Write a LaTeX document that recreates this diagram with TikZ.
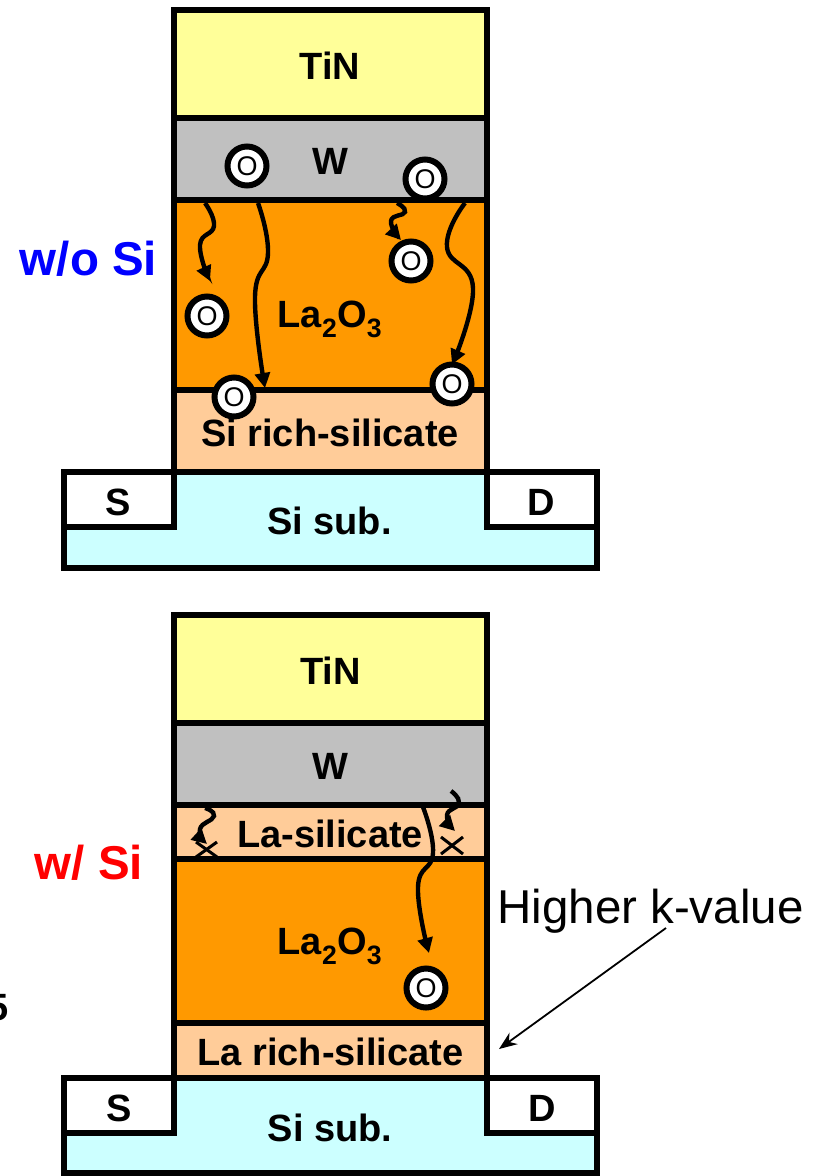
\documentclass[tikz,border=0pt]{standalone}
\usepackage{fontspec}
\setmainfont{Liberation Sans}
\usepackage{xcolor}
\usetikzlibrary{arrows.meta,positioning}
\definecolor{tincol}{HTML}{FFFF99}
\definecolor{wcol}{HTML}{C0C0C0}
\definecolor{laocol}{HTML}{FF9900}
\definecolor{silcol}{HTML}{FFCC99}
\definecolor{subcol}{HTML}{CCFFFF}
\tikzset{
  layer/.style={draw=black,line width=6pt,outer sep=0pt,inner sep=0pt,minimum width=313pt,text height=30pt,text depth=0pt,font=\fontsize{38}{40}\selectfont\bfseries},
  sdbox/.style={layer,fill=white,minimum width=110pt,minimum height=55pt,text height=32pt},
  subbox/.style={layer,fill=subcol,minimum width=533pt},
  lbl/.style={inner sep=0pt,font=\fontsize{38}{40}\selectfont\bfseries},
  side/.style={inner sep=0pt,font=\fontsize{47.5}{49}\selectfont\bfseries},
  oxy/.style={circle,draw=black,fill=white,line width=6pt,minimum size=39pt,inner sep=0pt,outer sep=0pt,font=\fontsize{27}{28}\selectfont},
  flow/.style={line width=4.4pt,-{Triangle[length=15pt,width=15pt]}},
  cross/.style={line width=3pt}
}
\begin{document}
\begin{tikzpicture}[x=1pt,y=-1pt]
\useasboundingbox (0,0) rectangle (825,1176);
% device without Si
\node[subbox,minimum height=96pt] (sub1) at (330,520) {};
\node[layer,fill=silcol,minimum height=82pt,above=0pt of sub1] (sil1) {Si rich-silicate};
\node[layer,fill=laocol,minimum height=190pt,above=0pt of sil1] (lao1) {};
\node[layer,fill=wcol,minimum height=82pt,above=0pt of lao1] (w1) {W};
\node[layer,fill=tincol,minimum height=108pt,above=0pt of w1] (tin1) {TiN};
\node[sdbox,anchor=north west] (s1) at (sub1.north west) {S};
\node[sdbox,anchor=north east] (d1) at (sub1.north east) {D};
\node[lbl] (subt1) at (329.5,521) {Si sub.};
\node[lbl] (laot1) at (330,319) {La\textsubscript{2}O\textsubscript{3}};
\node[side,text=blue] (wo) at (88.5,259) {w/o Si};
\node[oxy] (o1) at (247,166) {O};
\node[oxy] (o2) at (425,179) {O};
\node[oxy] (o3) at (411,261) {O};
\node[oxy] (o4) at (207,316) {O};
\node[oxy] (o5) at (234,397) {O};
\node[oxy] (o6) at (452,384) {O};
\coordinate (f1) at (205,203);
\coordinate (f2) at (258,203);
\coordinate (f3) at (397,203);
\coordinate (f4) at (465,203);
\coordinate (t1) at (210,281);
\coordinate (t2) at (265,388);
\draw[flow] plot[smooth,tension=0.8] coordinates {(f1) (214,226) (200,245) (t1)};
\draw[flow] plot[smooth,tension=0.8] coordinates {(f2) (268,253) (255,297) (t2)};
\draw[flow] plot[smooth,tension=0.9] coordinates {(f3) (405,212) (391,221) (401,240)};
\draw[flow] plot[smooth,tension=0.8] coordinates {(f4) (447,247) (473,288) (o6.north)};
% device with Si
\node[subbox,minimum height=95pt] (sub2) at (330.5,1125.5) {};
\node[layer,fill=silcol,minimum height=55pt,above=0pt of sub2] (sil2) {La rich-silicate};
\node[layer,fill=laocol,minimum height=164pt,above=0pt of sil2] (lao2) {};
\node[layer,fill=silcol,minimum height=54pt,above=0pt of lao2] (las2) {};
\node[layer,fill=wcol,minimum height=82pt,above=0pt of las2] (w2) {W};
\node[layer,fill=tincol,minimum height=108pt,above=0pt of w2] (tin2) {TiN};
\node[sdbox,anchor=north west] (s2) at (sub2.north west) {S};
\node[sdbox,anchor=north east] (d2) at (sub2.north east) {D};
\node[lbl] (subt2) at (330,1128) {Si sub.};
\node[lbl] (laot2) at (330,946) {La\textsubscript{2}O\textsubscript{3}};
\node[lbl] (last2) at (330,834) {La-silicate};
\node[side,text=red] (ws) at (89,863) {w/ Si};
\node[lbl,anchor=east] (five) at (9,1008) {5};
\node[oxy] (o7) at (426,988) {O};
\coordinate (f5) at (205,808);
\coordinate (f6) at (451,791);
\coordinate (f7) at (423,807);
\coordinate (t5) at (207,844);
\coordinate (t6) at (455,831);
\coordinate (t7) at (429,953);
\draw[flow] plot[smooth,tension=0.9] coordinates {(f5) (214,816) (200,829) (t5)};
\draw[flow] plot[smooth,tension=0.9] coordinates {(f6) (459,803) (447,815) (t6)};
\draw[flow] plot[smooth,tension=0.8] coordinates {(f7) (433,853) (418,887) (t7)};
\coordinate (xa) at (196,842);
\coordinate (xb) at (217,857);
\coordinate (xc) at (196,857);
\coordinate (xd) at (217,842);
\coordinate (xe) at (441,837);
\coordinate (xf) at (463,854);
\coordinate (xg) at (441,854);
\coordinate (xh) at (463,837);
\draw[cross] (xa) -- (xb);
\draw[cross] (xc) -- (xd);
\draw[cross] (xe) -- (xf);
\draw[cross] (xg) -- (xh);
% annotation
\node[inner sep=0pt,font=\fontsize{47.5}{49}\selectfont] (hk) at (650.5,911) {Higher k-value};
\coordinate (hkstart) at (666,928);
\coordinate (hkend) at (499,1049);
\draw[line width=1.8pt,-{Stealth[length=18pt,width=14pt]}] (hkstart) -- (hkend);
\end{tikzpicture}
\end{document}
